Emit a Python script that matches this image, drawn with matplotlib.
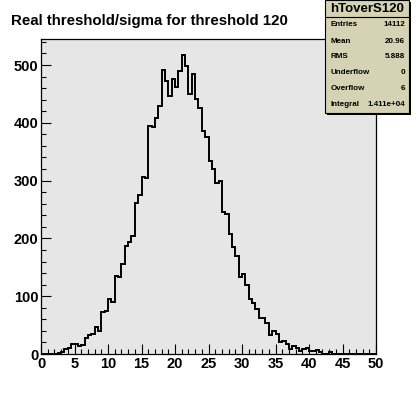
import matplotlib
matplotlib.use("Agg")
import matplotlib.pyplot as plt
from matplotlib.patches import Rectangle
from matplotlib.ticker import MultipleLocator
import numpy as np

# ---- data ----
bin_edges_lo = 0.0
bin_edges_hi = 50.0
counts = [0, 0, 0, 0, 0, 2, 3, 8, 10, 18,
          17, 14, 15, 27, 33, 35, 46, 39, 72, 74,
          95, 90, 135, 134, 155, 186, 194, 204, 262, 275,
          306, 305, 394, 392, 409, 429, 492, 472, 446, 475,
          462, 490, 518, 498, 450, 484, 442, 425, 386, 375,
          334, 320, 295, 299, 245, 243, 207, 185, 170, 133,
          138, 119, 96, 88, 77, 63, 63, 53, 33, 39,
          34, 20, 23, 18, 8, 13, 10, 6, 9, 10,
          5, 5, 7, 3, 0, 0, 3, 0, 0, 0,
          0, 0, 0, 0, 0, 0, 0, 0, 0, 0]
title = "Real threshold/sigma for threshold 120"
stats_name = "hToverS120"
stats_labels = ["Entries", "Mean", "RMS", "Underflow", "Overflow", "Integral"]
stats_values = ["14112", "20.96", "5.888", "0", "6", "1.411e+04"]
x_ticks = [0, 5, 10, 15, 20, 25, 30, 35, 40, 45, 50]
y_ticks = [0, 100, 200, 300, 400, 500]

plt.rcParams['font.family'] = ['Liberation Sans', 'DejaVu Sans']

W, H = 418, 393
fig = plt.figure(figsize=(W / 100, H / 100), dpi=100)
fig.patch.set_facecolor('white')

L, R, T, B = 41, 376, 39, 354
ax = fig.add_axes([L / W, (H - B) / H, (R - L) / W, (B - T) / H])
ax.set_facecolor('#e6e6e6')

edges = np.linspace(bin_edges_lo, bin_edges_hi, len(counts) + 1)
ax.stairs(counts, edges, color='black', lw=1.4)

ax.set_xlim(0, 50)
ax.set_ylim(0, 545)
ax.set_xticks(x_ticks)
ax.set_yticks(y_ticks)
ax.xaxis.set_minor_locator(MultipleLocator(1))
ax.yaxis.set_minor_locator(MultipleLocator(20))
ax.tick_params(which='both', direction='in', width=0.8, top=False, right=False)
ax.tick_params(which='major', length=7.2)
ax.tick_params(which='minor', length=3.6)
ax.tick_params(axis='x', pad=2.5)
ax.tick_params(axis='y', pad=2)
for lab in ax.get_xticklabels() + ax.get_yticklabels():
    lab.set_fontweight('bold')
    lab.set_fontsize(10.5)
for s in ax.spines.values():
    s.set_linewidth(0.9)

fig.text(11 / W, 1 - 21 / H, title, fontsize=10.8, fontweight='bold',
         ha='left', va='center')

# stats box (pixel coords -> figure fraction)
def fx(px):
    return px / W

def fy(py):
    return 1 - py / H

bx0, bx1, by0, by1 = 325, 409, 0, 113
fig.patches.append(Rectangle((fx(bx0 + 2), fy(by1 + 2)), fx(bx1 - bx0), (by1 - by0) / H,
                             transform=fig.transFigure, facecolor='black',
                             edgecolor='none', zorder=5))
fig.patches.append(Rectangle((fx(bx0), fy(by1)), fx(bx1 - bx0), (by1 - by0) / H,
                             transform=fig.transFigure, facecolor='#d6d2b4',
                             edgecolor='black', lw=0.8, zorder=6))
fig.lines.append(plt.Line2D([fx(bx0), fx(bx1)], [fy(17), fy(17)],
                            transform=fig.transFigure, color='black', lw=0.8, zorder=7))
fig.text(fx(367.5), fy(9.5), stats_name, fontsize=9.5, fontweight='bold',
         ha='center', va='center', zorder=8)
row_y = [25, 41.5, 57, 73, 89, 105]
for yy, lab, val in zip(row_y, stats_labels, stats_values):
    fig.text(fx(330.5), fy(yy), lab, fontsize=5.8, fontweight='bold',
             ha='left', va='center', zorder=8)
    fig.text(fx(405), fy(yy), val, fontsize=5.8, fontweight='bold',
             ha='right', va='center', zorder=8)

fig.savefig('out.png', dpi=100)
